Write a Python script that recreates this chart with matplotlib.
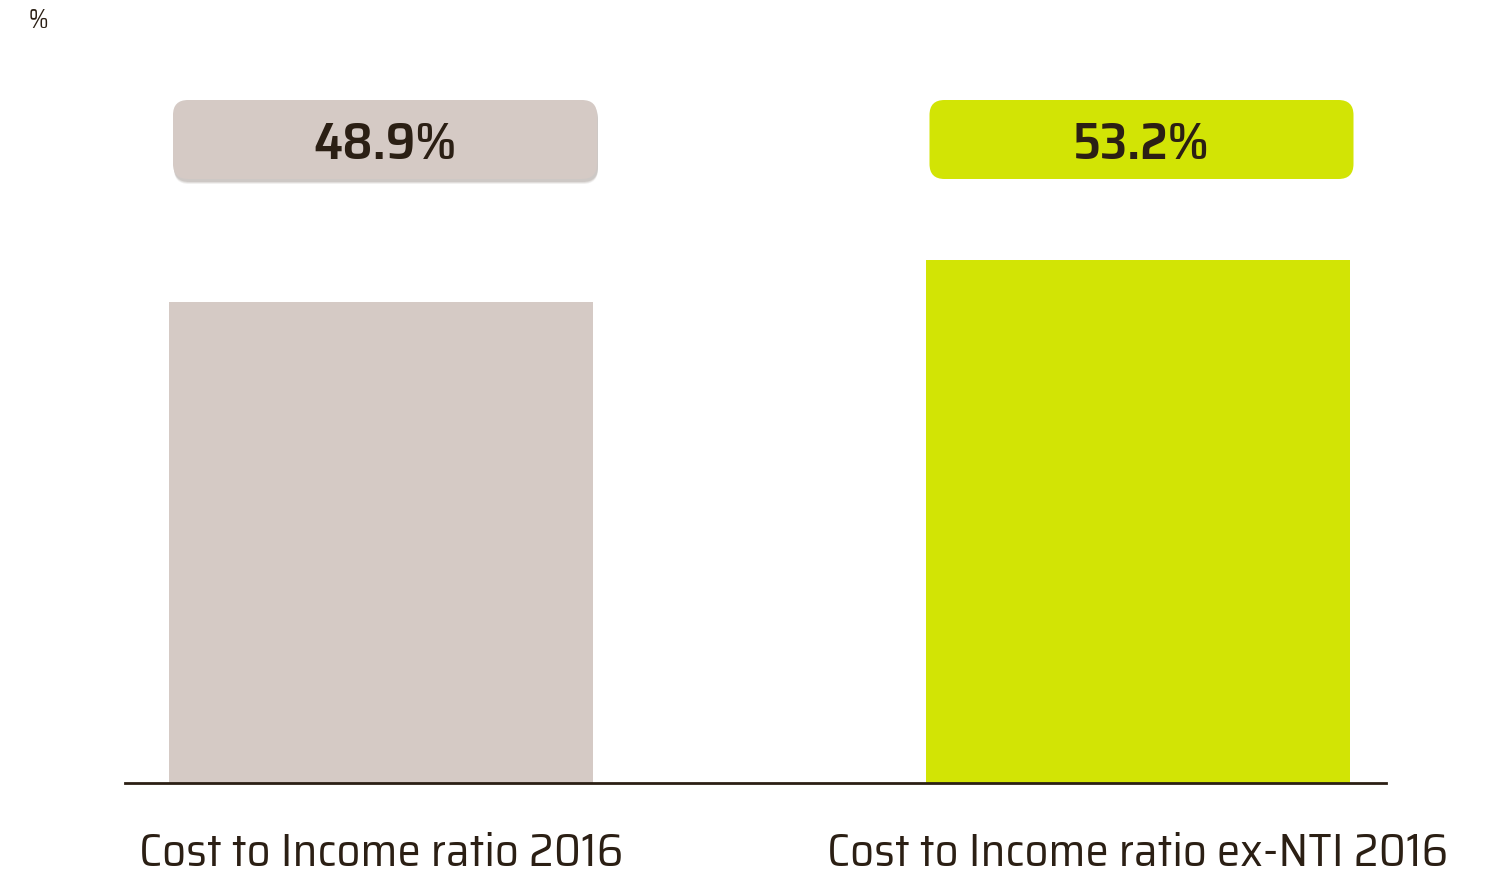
import matplotlib.pyplot as plt
from matplotlib.patches import FancyBboxPatch

# 数据
categories = ["Cost to Income ratio 2016", "Cost to Income ratio ex-NTI 2016"]
values = [48.9, 53.2]
value_labels = ["48.9%", "53.2%"]
colors = ["#d5cac5", "#d2e405"]
text_color = "#2b1f14"

font_list = ["Saira SemiCondensed", "Roboto Condensed", "DejaVu Sans"]

W, H = 1487, 875
fig = plt.figure(figsize=(W / 100, H / 100), dpi=100)

# 坐标轴位置（像素换算）
ax_left, ax_right, ax_bottom = 125, 1386, 783
ax = fig.add_axes([ax_left / W, 1 - ax_bottom / H, (ax_right - ax_left) / W, ax_bottom / H])

px_per_x = 756.5
px_per_y = 9.84
ax.set_xlim(-(381 - ax_left) / px_per_x, 1 + (ax_right - 1137.5) / px_per_x)
ax.set_ylim(0, ax_bottom / px_per_y)

bar_w = 424 / px_per_x
x = list(range(len(categories)))
ax.bar(x, values, width=bar_w, color=colors, zorder=2)

# 数值标签框
box_h = 79 / px_per_y
box_cy = (ax_bottom - 139.5) / px_per_y
r = 15 / px_per_x
aspect = px_per_x / px_per_y
for i, (lab, c) in enumerate(zip(value_labels, colors)):
    cx = x[i] + 4 / px_per_x
    if i == 0:
        # 阴影
        for k, a in enumerate([0.10, 0.14, 0.18]):
            off = (5 - k) / px_per_y
            sh = FancyBboxPatch((cx - bar_w / 2 + 1 / px_per_x, box_cy - box_h / 2 - off),
                                bar_w, box_h,
                                boxstyle=f"round,pad=0,rounding_size={r}",
                                mutation_aspect=aspect, fc="#7a6e66", ec="none",
                                alpha=a, zorder=3, clip_on=False)
            ax.add_patch(sh)
    box = FancyBboxPatch((cx - bar_w / 2, box_cy - box_h / 2), bar_w, box_h,
                         boxstyle=f"round,pad=0,rounding_size={r}",
                         mutation_aspect=aspect, fc=c, ec="none", zorder=4, clip_on=False)
    ax.add_patch(box)
    ax.text(cx, box_cy + 0.05, lab, ha="center", va="center_baseline", fontsize=37.5,
            fontweight="semibold", family=font_list, color=text_color, zorder=5)

for s in ["top", "right", "left"]:
    ax.spines[s].set_visible(False)
ax.spines["bottom"].set_color(text_color)
ax.spines["bottom"].set_linewidth(2)
ax.set_yticks([])
ax.set_xticks(x)
ax.set_xticklabels(categories, fontsize=33.8, color=text_color, family=font_list)
ax.tick_params(axis="x", length=0, pad=35)

fig.text(29 / W, 1 - 21 / H, "%", fontsize=19, color=text_color, va="center", family=font_list)

fig.savefig("out.png", dpi=100, facecolor="white")
